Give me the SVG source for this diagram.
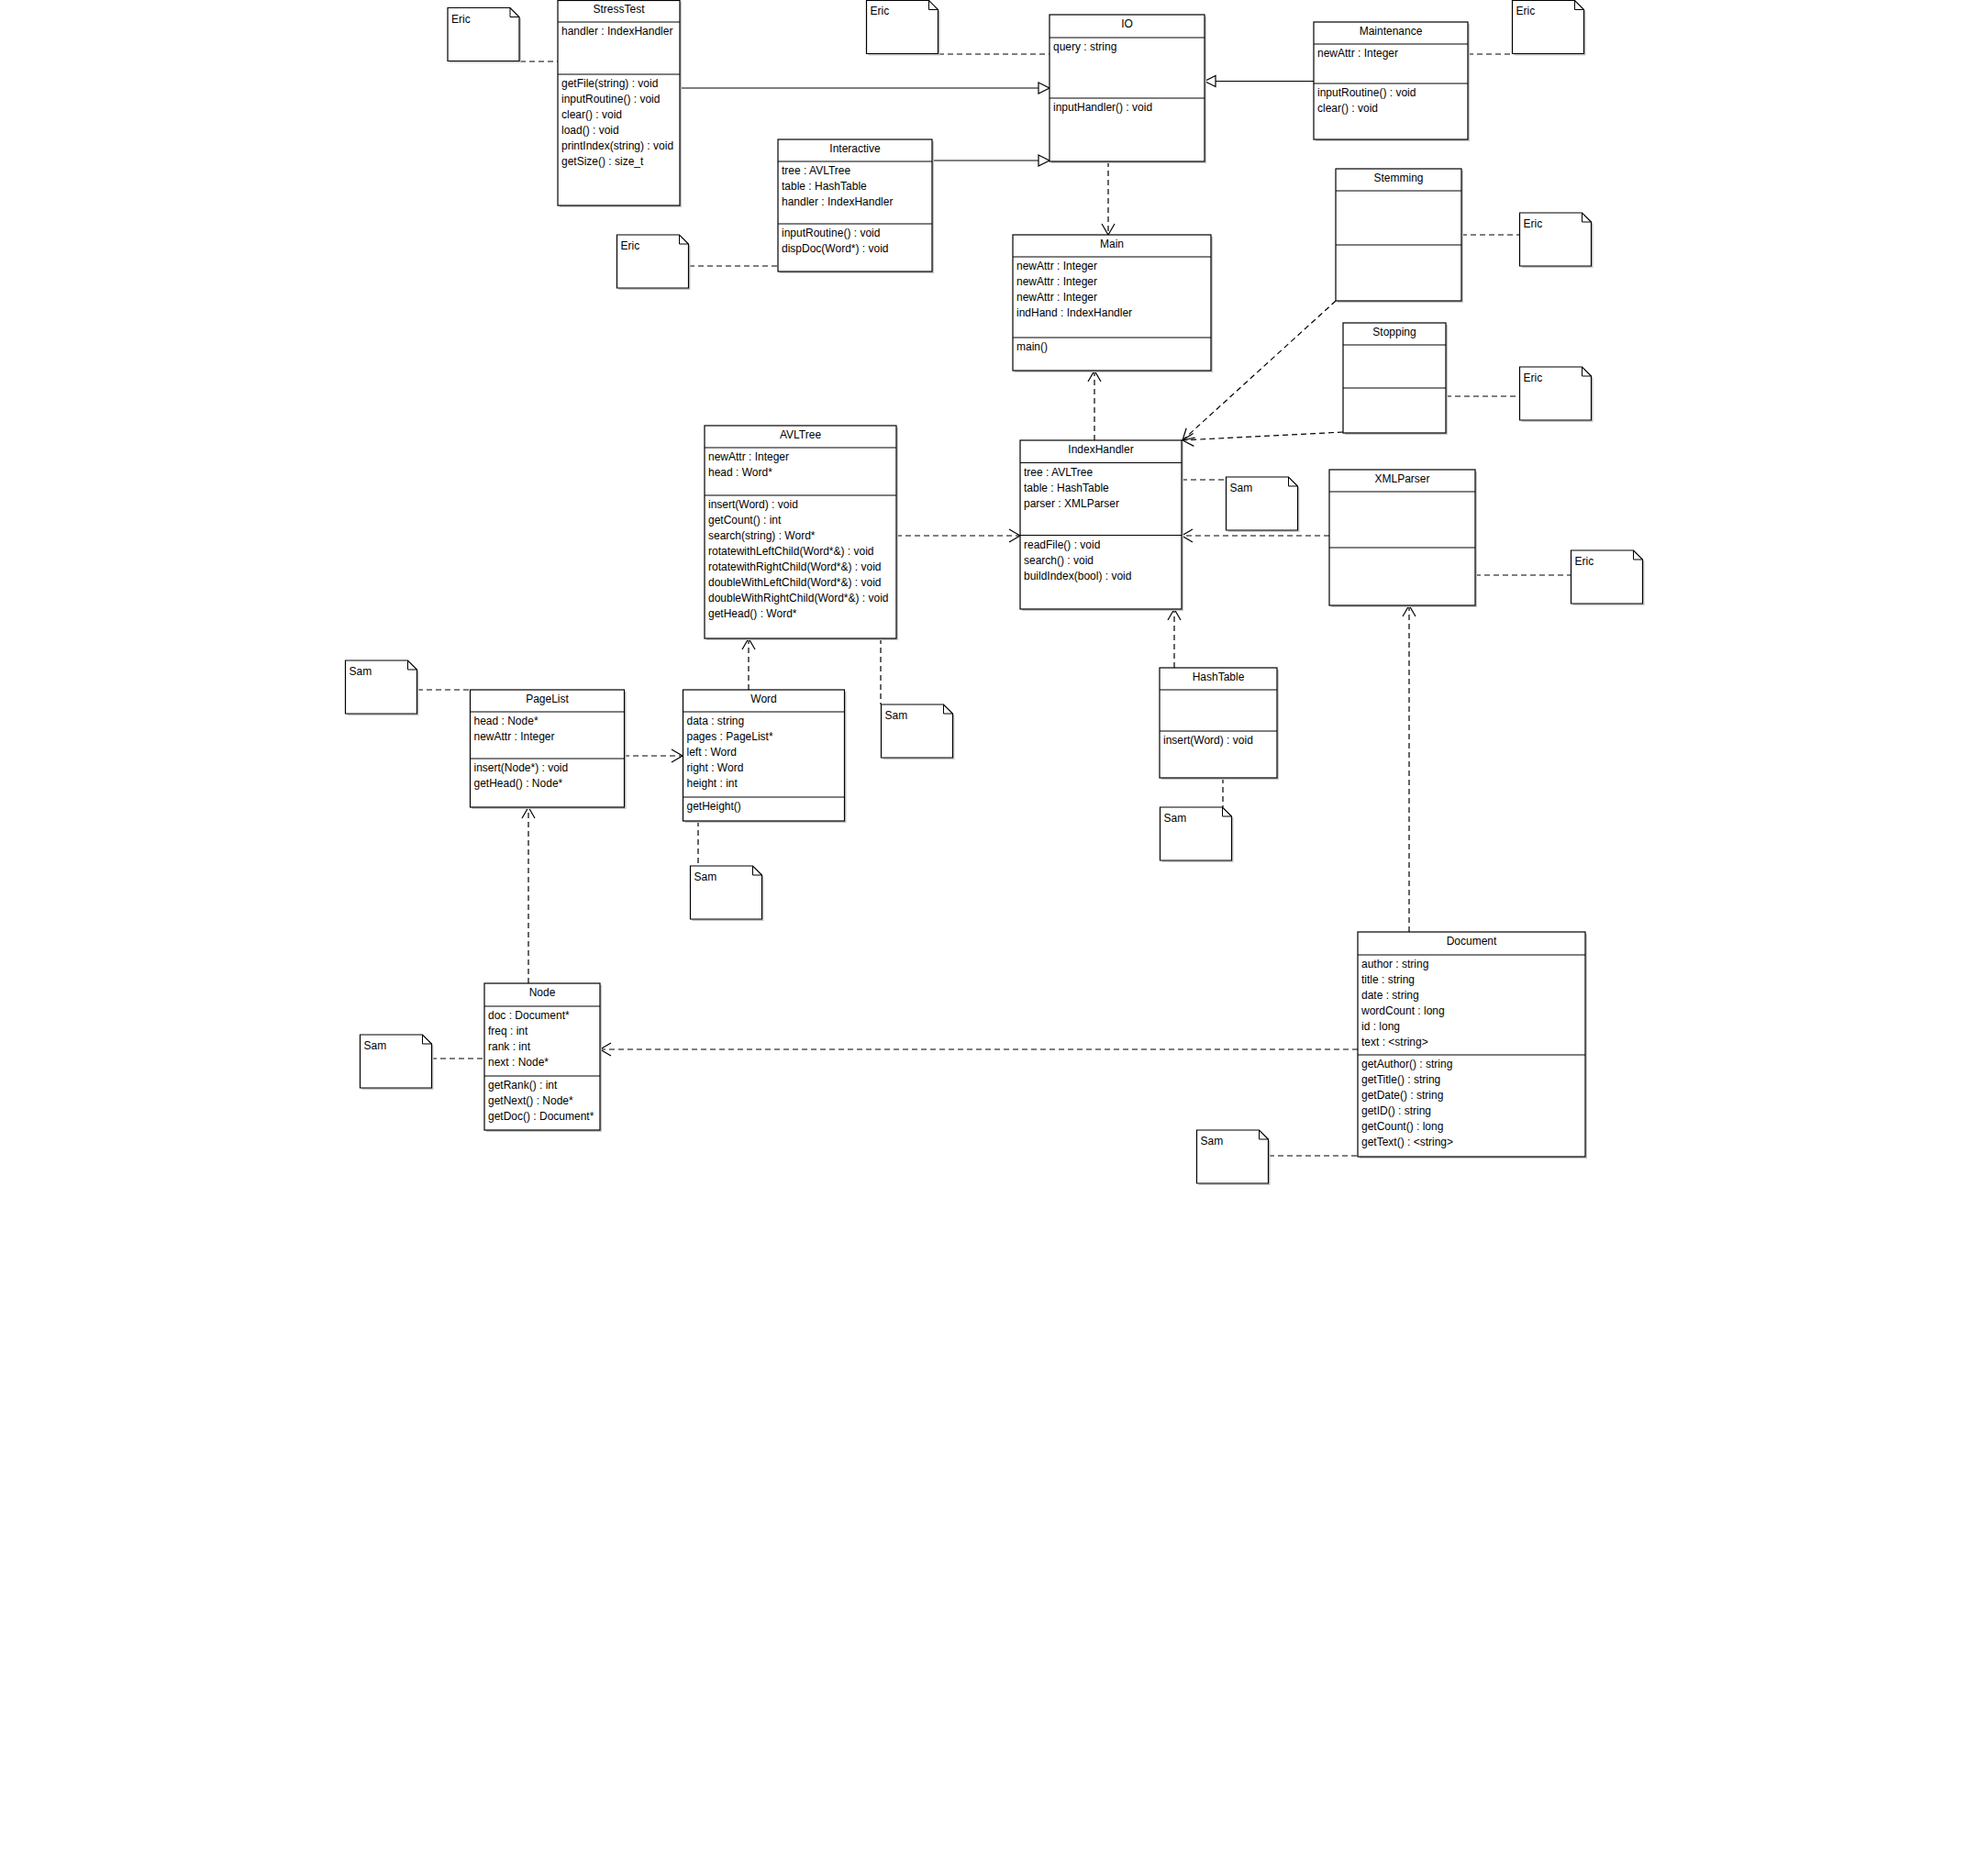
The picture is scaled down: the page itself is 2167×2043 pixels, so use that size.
<svg xmlns="http://www.w3.org/2000/svg" width="2167" height="2043" viewBox="0 0 2167 2043">
<style>
text{font-family:"Liberation Sans",Arial,sans-serif;font-size:12px;fill:#000}
.t{text-anchor:middle}
.bx{fill:#fff;stroke:#000;stroke-width:1.2}
.sh{fill:#c8c8c8;stroke:none}
.ln{stroke:#000;stroke-width:1.2}
.c path{fill:none;stroke:#000;stroke-width:1.2}
.c .d{stroke-dasharray:6,4}
.fold{fill:none;stroke:#000;stroke-width:1}
</style>
<defs>
<marker id="open" markerUnits="userSpaceOnUse" markerWidth="16" markerHeight="18" refX="13" refY="8" orient="auto" overflow="visible">
<path d="M1,1 L13,8 L1,15" fill="none" stroke="#000" stroke-width="1.2"/>
</marker>
<marker id="tri" markerUnits="userSpaceOnUse" markerWidth="16" markerHeight="16" refX="13" refY="7" orient="auto" overflow="visible">
<path d="M1,1 L13,7 L1,13 Z" fill="#fff" stroke="#000" stroke-width="1.2"/>
</marker>
<g id="note">
<path class="sh" d="M2,2 H70 L80,12 V60 H2 Z"/>
<path class="bx" d="M0,0 H68 L78,10 V58 H0 Z"/>
<path class="fold" d="M68,0 V10 H78"/>
</g>
</defs>
<rect width="2167" height="2043" fill="#fff"/>

<g class="c" id="connectors">
<path d="M741,96 H1144" marker-end="url(#tri)"/>
<path d="M1016,175 H1144" marker-end="url(#tri)"/>
<path d="M1432,88.5 H1313" marker-end="url(#tri)"/>
<path class="d" d="M1208,176 V256" marker-end="url(#open)"/>
<path class="d" d="M1193,480 V404" marker-end="url(#open)"/>
<path class="d" d="M977,584 H1112" marker-end="url(#open)"/>
<path class="d" d="M1449,584 H1288" marker-end="url(#open)"/>
<path class="d" d="M1456,328 L1289,480" marker-end="url(#open)"/>
<path class="d" d="M1464,471 L1289,480" marker-end="url(#open)"/>
<path class="d" d="M1280,728 V664" marker-end="url(#open)"/>
<path class="d" d="M816,752 V696" marker-end="url(#open)"/>
<path class="d" d="M680,824 H744" marker-end="url(#open)"/>
<path class="d" d="M576,1072 V880" marker-end="url(#open)"/>
<path class="d" d="M1536,1016 V660" marker-end="url(#open)"/>
<path class="d" d="M1480,1144 H654" marker-end="url(#open)"/>
<path class="d" d="M567,67 H608"/>
<path class="d" d="M751,290 H848"/>
<path class="d" d="M1023,59 H1144"/>
<path class="d" d="M1600,59 H1648"/>
<path class="d" d="M1593,256 H1656"/>
<path class="d" d="M1576,432 H1656"/>
<path class="d" d="M1288,523 H1337"/>
<path class="d" d="M1608,627 H1712"/>
<path class="d" d="M455,752 H512"/>
<path class="d" d="M761,895 V944"/>
<path class="d" d="M960,696 V768"/>
<path class="d" d="M1333,848 V880"/>
<path class="d" d="M470,1154 H528"/>
<path class="d" d="M1383,1260 H1480"/>
</g>

<g id="StressTest">
<rect class="sh" x="610" y="2" width="133" height="224"/>
<rect class="bx" x="608" y="0.5" width="133" height="223.5"/>
<path class="ln" d="M608,24 H741 M608,81 H741"/>
<text class="t" x="674.5" y="14">StressTest</text>
<text x="612" y="38">handler : IndexHandler</text>
<text x="612" y="95">getFile(string) : void</text>
<text x="612" y="112">inputRoutine() : void</text>
<text x="612" y="129">clear() : void</text>
<text x="612" y="146">load() : void</text>
<text x="612" y="163">printIndex(string) : void</text>
<text x="612" y="180">getSize() : size_t</text>
</g>

<g id="IO">
<rect class="sh" x="1146" y="18" width="169" height="160"/>
<rect class="bx" x="1144" y="16" width="169" height="160"/>
<path class="ln" d="M1144,41 H1313 M1144,107 H1313"/>
<text class="t" x="1228.5" y="30">IO</text>
<text x="1148" y="55">query : string</text>
<text x="1148" y="121">inputHandler() : void</text>
</g>

<g id="Maintenance">
<rect class="sh" x="1434" y="26" width="168" height="128"/>
<rect class="bx" x="1432" y="24" width="168" height="128"/>
<path class="ln" d="M1432,48 H1600 M1432,91 H1600"/>
<text class="t" x="1516" y="38">Maintenance</text>
<text x="1436" y="62">newAttr : Integer</text>
<text x="1436" y="105">inputRoutine() : void</text>
<text x="1436" y="122">clear() : void</text>
</g>

<g id="Interactive">
<rect class="sh" x="850" y="154" width="168" height="144"/>
<rect class="bx" x="848" y="152" width="168" height="144"/>
<path class="ln" d="M848,176 H1016 M848,244 H1016"/>
<text class="t" x="932" y="166">Interactive</text>
<text x="852" y="190">tree : AVLTree</text>
<text x="852" y="207">table : HashTable</text>
<text x="852" y="224">handler : IndexHandler</text>
<text x="852" y="258">inputRoutine() : void</text>
<text x="852" y="275">dispDoc(Word*) : void</text>
</g>

<g id="Main">
<rect class="sh" x="1106" y="258" width="216" height="148"/>
<rect class="bx" x="1104" y="256" width="216" height="148"/>
<path class="ln" d="M1104,280 H1320 M1104,368 H1320"/>
<text class="t" x="1212" y="270">Main</text>
<text x="1108" y="294">newAttr : Integer</text>
<text x="1108" y="311">newAttr : Integer</text>
<text x="1108" y="328">newAttr : Integer</text>
<text x="1108" y="345">indHand : IndexHandler</text>
<text x="1108" y="382">main()</text>
</g>

<g id="Stemming">
<rect class="sh" x="1458" y="186" width="137" height="144"/>
<rect class="bx" x="1456" y="184" width="137" height="144"/>
<path class="ln" d="M1456,208 H1593 M1456,267 H1593"/>
<text class="t" x="1524.5" y="198">Stemming</text>
</g>

<g id="Stopping">
<rect class="sh" x="1466" y="354" width="112" height="120"/>
<rect class="bx" x="1464" y="352" width="112" height="120"/>
<path class="ln" d="M1464,376 H1576 M1464,423 H1576"/>
<text class="t" x="1520" y="366">Stopping</text>
</g>

<g id="AVLTree">
<rect class="sh" x="770" y="466" width="209" height="232"/>
<rect class="bx" x="768" y="464" width="209" height="232"/>
<path class="ln" d="M768,488 H977 M768,540 H977"/>
<text class="t" x="872.5" y="478">AVLTree</text>
<text x="772" y="502">newAttr : Integer</text>
<text x="772" y="519">head : Word*</text>
<text x="772" y="554">insert(Word) : void</text>
<text x="772" y="571">getCount() : int</text>
<text x="772" y="588">search(string) : Word*</text>
<text x="772" y="605">rotatewithLeftChild(Word*&amp;) : void</text>
<text x="772" y="622">rotatewithRightChild(Word*&amp;) : void</text>
<text x="772" y="639">doubleWithLeftChild(Word*&amp;) : void</text>
<text x="772" y="656">doubleWithRightChild(Word*&amp;) : void</text>
<text x="772" y="673">getHead() : Word*</text>
</g>

<g id="IndexHandler">
<rect class="sh" x="1114" y="482" width="176" height="184"/>
<rect class="bx" x="1112" y="480" width="176" height="184"/>
<path class="ln" d="M1112,504.5 H1288 M1112,583.5 H1288"/>
<text class="t" x="1200" y="494">IndexHandler</text>
<text x="1116" y="518.5">tree : AVLTree</text>
<text x="1116" y="535.5">table : HashTable</text>
<text x="1116" y="552.5">parser : XMLParser</text>
<text x="1116" y="597.5">readFile() : void</text>
<text x="1116" y="614.5">search() : void</text>
<text x="1116" y="631.5">buildIndex(bool) : void</text>
</g>

<g id="XMLParser">
<rect class="sh" x="1451" y="514" width="159" height="148"/>
<rect class="bx" x="1449" y="512" width="159" height="148"/>
<path class="ln" d="M1449,536 H1608 M1449,597 H1608"/>
<text class="t" x="1528.5" y="526">XMLParser</text>
</g>

<g id="PageList">
<rect class="sh" x="514.5" y="754" width="168" height="128"/>
<rect class="bx" x="512.5" y="752" width="168" height="128"/>
<path class="ln" d="M512.5,776 H680.5 M512.5,827 H680.5"/>
<text class="t" x="596.5" y="766">PageList</text>
<text x="516.5" y="790">head : Node*</text>
<text x="516.5" y="807">newAttr : Integer</text>
<text x="516.5" y="841">insert(Node*) : void</text>
<text x="516.5" y="858">getHead() : Node*</text>
</g>

<g id="Word">
<rect class="sh" x="746.5" y="754" width="176" height="143"/>
<rect class="bx" x="744.5" y="752" width="176" height="143"/>
<path class="ln" d="M744.5,776 H920.5 M744.5,869 H920.5"/>
<text class="t" x="832.5" y="766">Word</text>
<text x="748.5" y="790">data : string</text>
<text x="748.5" y="807">pages : PageList*</text>
<text x="748.5" y="824">left : Word</text>
<text x="748.5" y="841">right : Word</text>
<text x="748.5" y="858">height : int</text>
<text x="748.5" y="883">getHeight()</text>
</g>

<g id="HashTable">
<rect class="sh" x="1266" y="730" width="128" height="120"/>
<rect class="bx" x="1264" y="728" width="128" height="120"/>
<path class="ln" d="M1264,752 H1392 M1264,797 H1392"/>
<text class="t" x="1328" y="742">HashTable</text>
<text x="1268" y="811">insert(Word) : void</text>
</g>

<g id="Node">
<rect class="sh" x="530" y="1074" width="126" height="160"/>
<rect class="bx" x="528" y="1072" width="126" height="160"/>
<path class="ln" d="M528,1097 H654 M528,1173 H654"/>
<text class="t" x="591" y="1086">Node</text>
<text x="532" y="1111">doc : Document*</text>
<text x="532" y="1128">freq : int</text>
<text x="532" y="1145">rank : int</text>
<text x="532" y="1162">next : Node*</text>
<text x="532" y="1187">getRank() : int</text>
<text x="532" y="1204">getNext() : Node*</text>
<text x="532" y="1221">getDoc() : Document*</text>
</g>

<g id="Document">
<rect class="sh" x="1482" y="1018" width="248" height="245"/>
<rect class="bx" x="1480" y="1016" width="248" height="245"/>
<path class="ln" d="M1480,1041 H1728 M1480,1150 H1728"/>
<text class="t" x="1604" y="1030">Document</text>
<text x="1484" y="1055">author : string</text>
<text x="1484" y="1072">title : string</text>
<text x="1484" y="1089">date : string</text>
<text x="1484" y="1106">wordCount : long</text>
<text x="1484" y="1123">id : long</text>
<text x="1484" y="1140">text : &lt;string&gt;</text>
<text x="1484" y="1164">getAuthor() : string</text>
<text x="1484" y="1181">getTitle() : string</text>
<text x="1484" y="1198">getDate() : string</text>
<text x="1484" y="1215">getID() : string</text>
<text x="1484" y="1232">getCount() : long</text>
<text x="1484" y="1249">getText() : &lt;string&gt;</text>
</g>

<g id="noteA"><use href="#note" x="488" y="8.5"/><text x="492" y="24.5">Eric</text></g>
<g id="noteB"><use href="#note" x="672.5" y="256"/><text x="676.5" y="272">Eric</text></g>
<g id="noteC"><use href="#note" x="944.5" y="0.5"/><text x="948.5" y="16">Eric</text></g>
<g id="noteD"><use href="#note" x="1648.5" y="0.5"/><text x="1652.5" y="16">Eric</text></g>
<g id="noteE"><use href="#note" x="1656.5" y="232"/><text x="1660.5" y="248">Eric</text></g>
<g id="noteF"><use href="#note" x="1656.5" y="400"/><text x="1660.5" y="416">Eric</text></g>
<g id="noteG"><use href="#note" x="1336.5" y="520"/><text x="1340.5" y="536">Sam</text></g>
<g id="noteH"><use href="#note" x="1712.5" y="600"/><text x="1716.5" y="616">Eric</text></g>
<g id="noteI"><use href="#note" x="376.5" y="720"/><text x="380.5" y="736">Sam</text></g>
<g id="noteJ"><use href="#note" x="752.5" y="944"/><text x="756.5" y="960">Sam</text></g>
<g id="noteK"><use href="#note" x="960.5" y="768"/><text x="964.5" y="784">Sam</text></g>
<g id="noteL"><use href="#note" x="1264.5" y="880"/><text x="1268.5" y="896">Sam</text></g>
<g id="noteM"><use href="#note" x="392.5" y="1128"/><text x="396.5" y="1144">Sam</text></g>
<g id="noteN"><use href="#note" x="1304.5" y="1232"/><text x="1308.5" y="1248">Sam</text></g>
</svg>
